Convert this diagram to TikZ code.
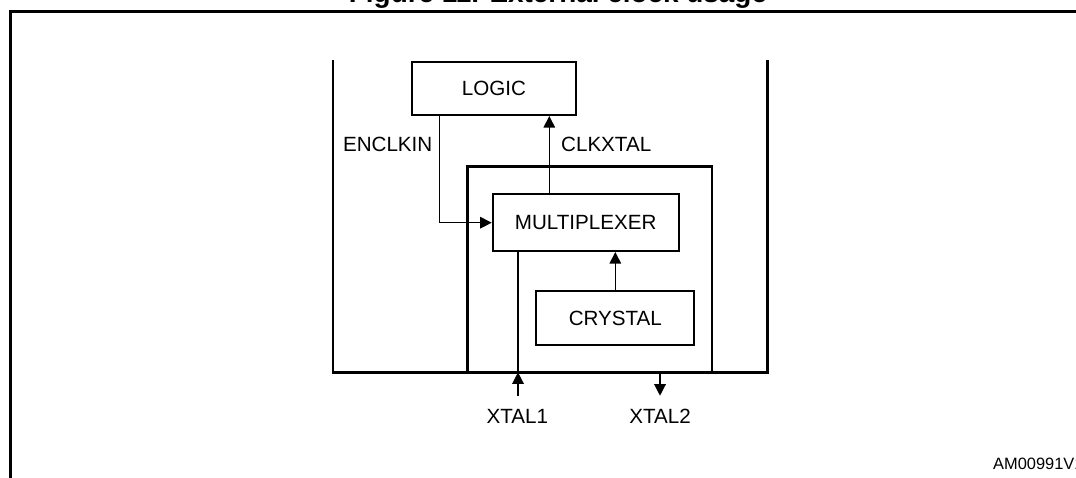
\documentclass[tikz,border=0pt]{standalone}
\usepackage{fontspec}
\setmainfont{Liberation Sans}
\usetikzlibrary{arrows.meta,calc}
\tikzset{
  blk/.style={draw, line width=2pt, inner sep=0pt, font=\fontsize{20.6}{24}\selectfont},
  lbl/.style={inner sep=0pt, font=\fontsize{20.6}{24}\selectfont},
  conn/.style={line width=1.3pt},
  arr/.style={line width=1.3pt, -{Triangle[length=11.5pt,width=11.5pt]}},
  wall/.style={line width=2.4pt}
}
\begin{document}
\begin{tikzpicture}[x=1pt,y=-1pt]
\useasboundingbox (0,0) rectangle (1076,477);
% title and frame
\node[inner sep=0pt, anchor=base, font=\fontsize{27.9}{32}\selectfont\bfseries] (title) at (558,2.8) {Figure 11. External clock usage};
\draw[line width=2.6pt] (10.7,500) -- (10.7,11.2) -- (1100,11.2);
% outer device outline
\coordinate (otl) at (332.7,60);
\coordinate (obl) at (332.7,372.3);
\coordinate (obr) at (767.3,372.3);
\coordinate (otr) at (767.3,60);
\draw[wall] (otl) -- (obl) -- (obr) -- (otr);
% blocks
\node[blk, minimum width=164.3pt, minimum height=52.7pt] (logic) at (493.9,88.7) {LOGIC};
\node[draw, line width=2.6pt, minimum width=244.3pt, minimum height=205.6pt, inner sep=0pt] (osc) at (589.85,269.5) {};
\node[blk, minimum width=186pt, minimum height=56.7pt] (mux) at (585.7,222.7) {MULTIPLEXER};
\node[blk, minimum width=158.3pt, minimum height=54pt] (crystal) at (615.3,318) {CRYSTAL};
% connectors
\coordinate (enc) at (439.3,0);
\coordinate (ck) at (549.3,0);
\draw[arr] (logic.south -| enc) |- (mux.west);
\draw[arr] (mux.north -| ck) -- (logic.south -| ck);
\draw[arr] (crystal.north) -- (crystal.north |- mux.south);
\coordinate (x1) at (518,396);
\coordinate (x2) at (660,372.3);
\coordinate (x2end) at (660,395.7);
\draw[arr] (x1) -- (x1 |- obl);
\draw[conn] (x1 |- obl) -- (x1 |- mux.south);
\draw[arr] (x2) -- (x2end);
% labels
\node[lbl] (lenc) at (387.7,144.3) {ENCLKIN};
\node[lbl] (lck) at (606.2,144.3) {CLKXTAL};
\node[lbl] (lx1) at (517.3,416.7) {XTAL1};
\node[lbl] (lx2) at (660,416.7) {XTAL2};
\node[inner sep=0pt, anchor=west, font=\fontsize{16.4}{20}\selectfont] (code) at (993,464) {AM00991V1};
\end{tikzpicture}
\end{document}
